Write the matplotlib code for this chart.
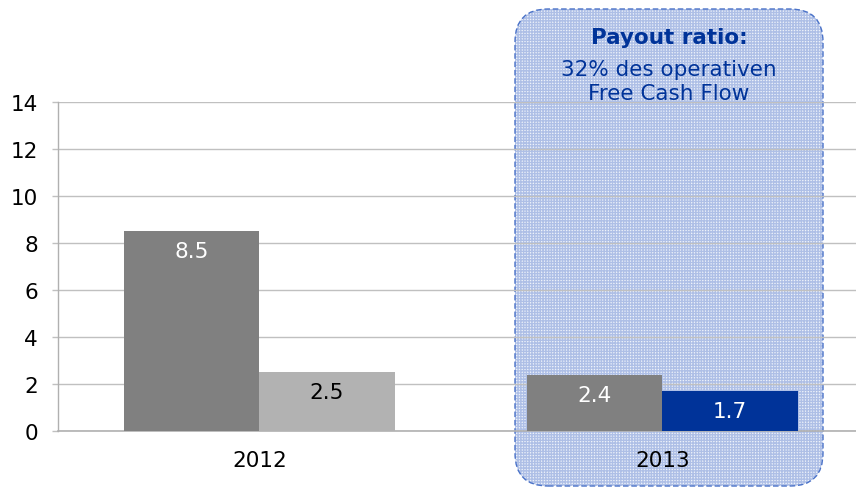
import matplotlib
matplotlib.use("Agg")
import matplotlib.pyplot as plt
from matplotlib.patches import FancyBboxPatch
import numpy as np

years = ["2012", "2013"]
first_series = [8.5, 2.4]
second_series = [2.5, 1.7]
second_colors = ["#b2b2b2", "#003399"]
second_label_colors = ["#000000", "#ffffff"]
y_ticks = [0, 2, 4, 6, 8, 10, 12, 14]

plt.rcParams["font.family"] = ["DejaVu Sans"]
plt.rcParams["hatch.linewidth"] = 1.0

fig = plt.figure(figsize=(8.56, 4.89), dpi=100)
fig.patch.set_facecolor("white")

# highlight panel behind the 2013 group (figure inches)
panel_fill = FancyBboxPatch((5.15, 0.02), 3.08, 4.77,
                            boxstyle="round,pad=0,rounding_size=0.33",
                            transform=fig.dpi_scale_trans,
                            facecolor="#eef2fa", edgecolor="#aebfe6",
                            hatch="++++++", linewidth=0, zorder=-2)
panel_edge = FancyBboxPatch((5.15, 0.02), 3.08, 4.77,
                            boxstyle="round,pad=0,rounding_size=0.33",
                            transform=fig.dpi_scale_trans,
                            facecolor="none", edgecolor="#4a72c8",
                            linestyle=(0, (4, 2)), linewidth=1.0, zorder=-1)
fig.patches.extend([panel_fill, panel_edge])

ax = fig.add_axes([58 / 856, 1 - 432 / 489, 806 / 856, 329 / 489])
ax.patch.set_visible(False)

x = np.arange(len(years))
w = 0.335
bars1 = ax.bar(x - w / 2, first_series, width=w, color="#808080", zorder=3)
bars2 = ax.bar(x + w / 2, second_series, width=w, color=second_colors, zorder=3)

for bar, val in zip(bars1, first_series):
    ax.annotate(f"{val:.1f}", (bar.get_x() + bar.get_width() / 2, val),
                xytext=(0, -14.5), textcoords="offset points",
                ha="center", va="center", fontsize=15.5, color="white", zorder=4)
for bar, val, c in zip(bars2, second_series, second_label_colors):
    ax.annotate(f"{val:.1f}", (bar.get_x() + bar.get_width() / 2, val),
                xytext=(0, -14.5), textcoords="offset points",
                ha="center", va="center", fontsize=15.5, color=c, zorder=4)

ax.set_xlim(-0.5, 1.5)
ax.set_ylim(0, 14)
ax.set_yticks(y_ticks)
ax.set_xticks(x)
ax.set_xticklabels(years)
ax.grid(axis="y", color="#c0c0c0", linewidth=1.0, zorder=1)
ax.axhline(0, color="#b0b0b0", linewidth=1.2, clip_on=False, zorder=2)
ax.set_axisbelow(True)

for side in ["top", "right", "bottom"]:
    ax.spines[side].set_visible(False)
ax.spines["left"].set_color("#b0b0b0")
ax.spines["left"].set_linewidth(1.0)

ax.tick_params(axis="y", length=4.5, width=1.0, color="#c0c0c0",
               pad=10, labelsize=15.5, labelcolor="#000000")
ax.tick_params(axis="x", length=0, pad=14, labelsize=15.5, labelcolor="#000000")

fig.text(669 / 856, 1 - 38 / 489, "Payout ratio:", ha="center", va="center",
         fontsize=15.5, fontweight="bold", color="#003399")
fig.text(669 / 856, 1 - 70 / 489, "32% des operativen", ha="center", va="center",
         fontsize=15.5, color="#003399")
fig.text(669 / 856, 1 - 94 / 489, "Free Cash Flow", ha="center", va="center",
         fontsize=15.5, color="#003399")

fig.savefig("out.png", dpi=100, facecolor="white")
